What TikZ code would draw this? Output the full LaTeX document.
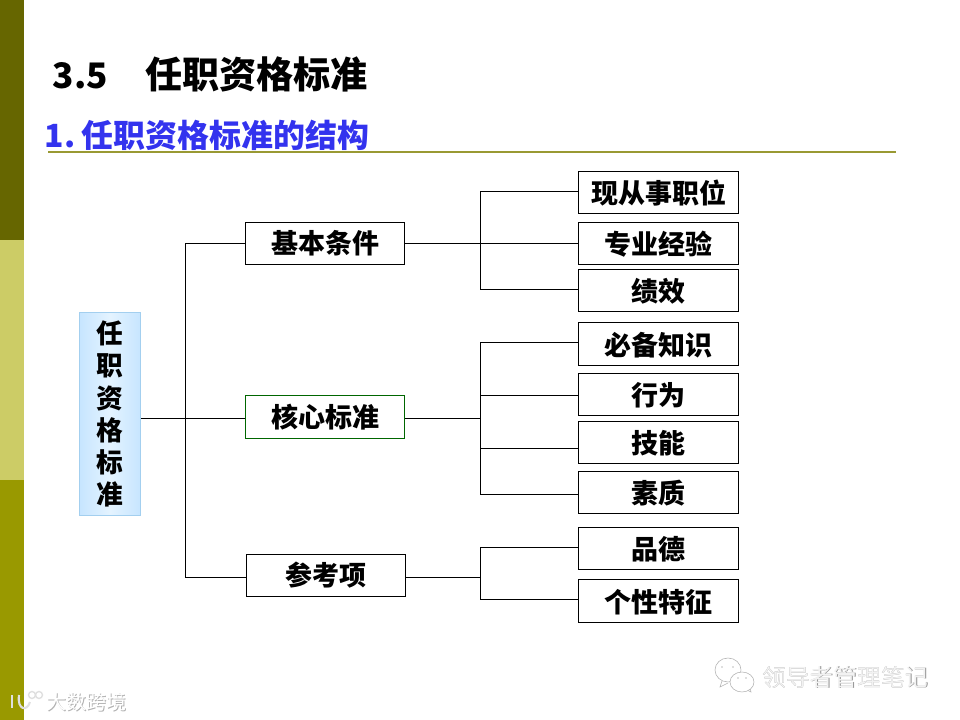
\documentclass[tikz,border=0pt]{standalone}
\usepackage{fontspec}
\setmainfont{Noto Sans CJK SC}
\usetikzlibrary{arrows.meta,positioning,calc}
\definecolor{bandA}{HTML}{666600}
\definecolor{bandB}{HTML}{CCCC66}
\definecolor{bandC}{HTML}{999900}
\definecolor{ruleC}{HTML}{999933}
\definecolor{subC}{HTML}{3333EE}
\definecolor{rootE}{HTML}{C6E5FF}
\definecolor{rootM}{HTML}{E4F3FF}
\definecolor{rootB}{HTML}{A3CFEF}
\tikzset{
box/.style={draw=black,fill=white,line width=.72pt,minimum width=113.4pt,minimum height=30.4pt,inner sep=0pt,font=\fontsize{19.2}{22}\selectfont\bfseries},
cbox/.style={box,minimum width=114pt,text height=17.4pt,text depth=1.6pt},
link/.style={line width=.72pt},
mark text/.style={inner sep=0pt,anchor=west,font=\fontsize{16.9}{20}\selectfont},
bubble/.style={draw=gray!60,line width=.4pt,fill=white},
logo line/.style={draw=white!75!gray,line width=1.5pt}
}
\begin{document}
\begin{tikzpicture}[x=.025cm,y=-.025cm]
\useasboundingbox (0,0) rectangle (960,720);
\fill[bandA] (0,0) rectangle (24,240);
\fill[bandB] (0,240) rectangle (24,480);
\fill[bandC] (0,480) rectangle (24,720);
\node[inner sep=0pt,anchor=west,font=\fontsize{26.4}{30}\selectfont\bfseries] (title) at (52.5,74) {\fontsize{25}{30}\selectfont 3.5\hspace{26.4pt}\fontsize{26.4}{30}\selectfont 任职资格标准};
\node[inner sep=0pt,anchor=west,text=subC,font=\fontsize{22.7}{26}\selectfont\bfseries] (sub) at (44.5,135) {1.\hspace{4.5pt}任职资格标准的结构};
\coordinate (R1) at (48,152);
\coordinate (R2) at (896,152);
\draw[ruleC,line width=1.5pt] (R1)--(R2);
\node[draw=rootB,left color=rootE,right color=rootE,middle color=rootM,line width=.75pt,minimum width=44pt,minimum height=145pt,inner sep=0pt,align=center,font=\fontsize{19}{22.8}\selectfont\bfseries] (root) at (110,414) {任\\职\\资\\格\\标\\准};
\node[box] (basic) at (325,243.5) {基本条件};
\node[box,draw=green!40!black] (core) at (325,417) {核心标准};
\node[box] (extra) at (326,575.5) {参考项};
\node[cbox] (C1) at (658.5,192.5) {现从事职位};
\node[cbox] (C2) at (658.5,243.5) {专业经验};
\node[cbox] (C3) at (658.5,290.5) {绩效};
\node[cbox] (C4) at (658.5,344) {必备知识};
\node[cbox] (C5) at (658.5,394.5) {行为};
\node[cbox] (C6) at (658.5,442.5) {技能};
\node[cbox] (C7) at (658.5,492.5) {素质};
\node[cbox] (C8) at (658.5,548.5) {品德};
\node[cbox] (C9) at (658.5,601) {个性特征};
% trunks
\coordinate (T0) at (185.5,418.5);
\coordinate (T1) at (480.5,243.5);
\coordinate (T2) at (480.5,418.5);
\coordinate (T3) at (480.5,577.5);
% free ends where a line meets a box off centre
\coordinate (E1) at (578,191.5);
\coordinate (E3) at (578,289.5);
\coordinate (E4) at (578,342.5);
\coordinate (E5) at (578,395.5);
\coordinate (E6) at (578,448.5);
\coordinate (E7) at (578,494.5);
\coordinate (E8) at (578,547.5);
\coordinate (E9) at (578,599.5);
\draw[link] (root.east|-T0)--(T0-|core.west);
\draw[link] (basic.west)-|(T0)|-(T0|-T3)--(T3-|extra.west);
\draw[link] (basic.east)--(C2.west);
\draw[link] (E1)-|(T1)|-(E3);
\draw[link] (T2-|core.east)--(T2);
\draw[link] (E4)-|(T2)|-(E7);
\draw[link] (E5)-|(T2);
\draw[link] (E6)-|(T2);
\draw[link] (T3-|extra.east)--(T3);
\draw[link] (E8)-|(T3)|-(E9);
% watermarks
\draw[bubble] (722,681)--(720,687)--(728,683);
\draw[bubble] (728,670) ellipse (13 and 12);
\draw[bubble] (747,690)--(751,692)--(750,687);
\draw[bubble] (742,682) ellipse (12 and 10);
\fill[gray!50] (722,667) circle (.8) (733,667) circle (.8) (738,678) circle (.8) (746,678) circle (.8);
\node[mark text,text=gray!85] (markS) at (762.6,677.6) {领导者管理笔记};
\node[mark text,text=white!90!gray] (mark) at (762,677) {领导者管理笔记};
\node[mark text,text=gray!60,font=\fontsize{14.2}{17}\selectfont] (logoS) at (47,703) {大数跨境};
\node[mark text,text=white,font=\fontsize{14.2}{17}\selectfont] (logo) at (46,702) {大数跨境};
\draw[logo line] (12,695)--(12,708);
\draw[logo line] (19,695)..controls (17,710) and (27,712) ..(30,702);
\draw[logo line,line width=1pt] (32,695) circle (3.5);
\draw[logo line,line width=1pt] (39,695) circle (3.5);
\end{tikzpicture}
\end{document}
